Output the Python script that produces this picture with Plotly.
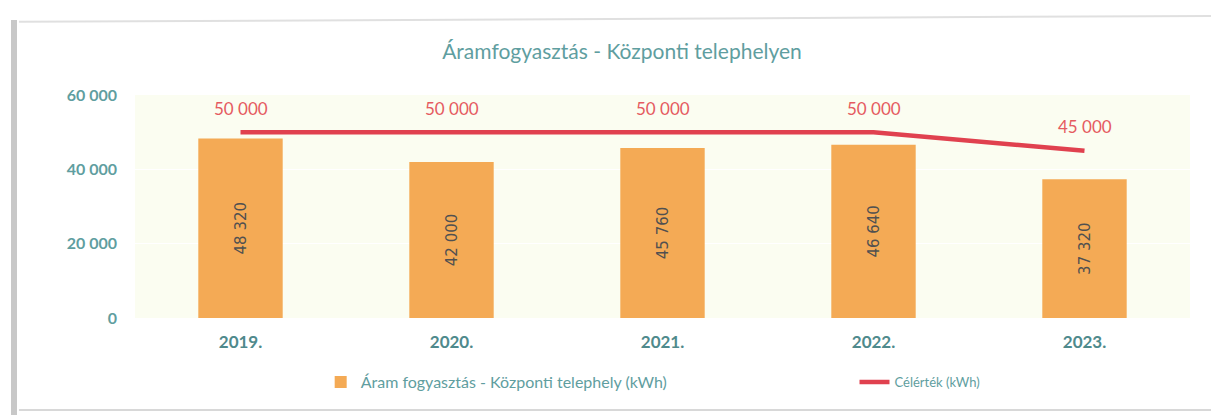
import plotly.graph_objects as go

years = ["2019.", "2020.", "2021.", "2022.", "2023."]
consumption = [48320, 42000, 45760, 46640, 37320]
target = [50000, 50000, 50000, 50000, 45000]
y_ticks = [0, 20000, 40000, 60000]
y_tick_labels = ["0", "20 000", "40 000", "60 000"]

def fmt(v):
    return f"{v:,}".replace(",", " ")

teal = "#5f9ea0"
fig = go.Figure()
fig.add_trace(go.Bar(
    x=years, y=consumption, name="Áram fogyasztás - Központi telephely (kWh)",
    marker=dict(color="#f4aa55", line=dict(width=0)),
    width=0.4,
    text=[fmt(v) for v in consumption], textposition="inside",
    insidetextanchor="middle", textangle=-90,
    textfont=dict(family="DejaVu Sans", size=15, color="#505050"),
    legend="legend",
))
fig.add_trace(go.Scatter(
    x=years, y=target, name="Célérték (kWh)", mode="lines",
    line=dict(color="#e0414f", width=4.5),
    legend="legend2",
))
for i, yv in enumerate(target):
    fig.add_annotation(x=i, y=yv, text=fmt(yv), showarrow=False, yshift=24,
                       font=dict(family="Lato", size=17, color="#e55a60"))

# the page body has an 8px margin; figure is sized/positioned to compensate
fig.update_layout(
    width=1211, height=407,
    margin=dict(l=127, r=29, t=87, b=97),
    paper_bgcolor="white", plot_bgcolor="#fbfdf1",
    title=dict(text="Áramfogyasztás - Központi telephelyen", x=0.507, xanchor="center",
               y=0.892, yanchor="middle",
               font=dict(family="Lato", size=21, color=teal)),
    showlegend=True,
    legend=dict(orientation="h", x=0.176, xanchor="left", y=-0.287, yanchor="middle",
                font=dict(family="Lato", size=16, color=teal), itemwidth=30),
    legend2=dict(orientation="h", x=0.682, xanchor="left", y=-0.287, yanchor="middle",
                 font=dict(family="Lato", size=13, color=teal), itemwidth=30),
    xaxis=dict(type="category", range=[-0.5, 4.5], showgrid=False, showline=False, ticks="",
               ticklabelstandoff=12,
               tickfont=dict(family="Lato", size=17, color="#4f8a8c", weight="bold")),
    yaxis=dict(range=[0, 60000], tickvals=y_ticks, ticktext=y_tick_labels,
               showgrid=True, gridcolor="#ffffff", zeroline=False, showline=False,
               ticklabelstandoff=17,
               tickfont=dict(family="Lato", size=16, color=teal, weight="bold")),
    shapes=[
        dict(type="line", xref="paper", yref="paper", x0=-0.1147, x1=-0.1147, y0=-0.44, y1=1.336,
             line=dict(color="#c8c8c8", width=6)),
        dict(type="line", xref="paper", yref="paper", x0=-0.11, x1=1.03, y0=1.328, y1=1.355,
             line=dict(color="#e0e0e0", width=2)),
        dict(type="line", xref="paper", yref="paper", x0=-0.11, x1=1.03, y0=-0.413, y1=-0.413,
             line=dict(color="#d8d8d8", width=2)),
    ],
)
fig.write_html("out.html")
